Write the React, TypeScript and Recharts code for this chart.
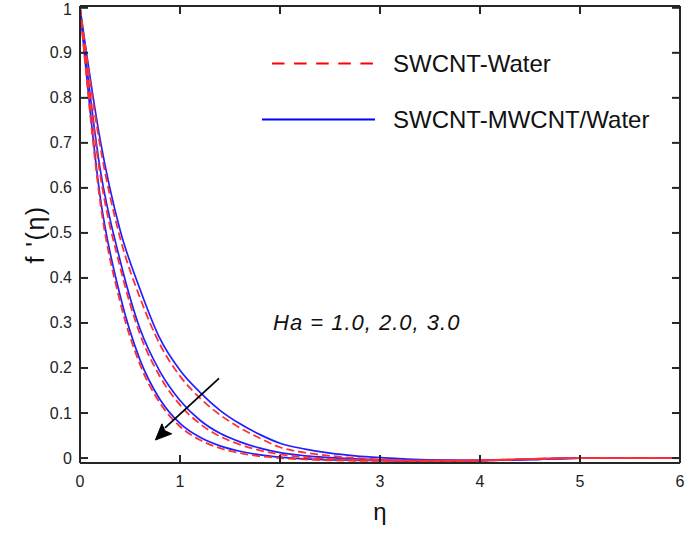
import React from 'react';
import {
  LineChart,
  Line,
  XAxis,
  YAxis,
  Legend,
  ReferenceLine,
  ReferenceDot,
} from 'recharts';

const FONT = '"Liberation Sans", Arial, Helvetica, sans-serif';

// similarity variable eta
const ETA = [0, 0.2, 0.4, 0.6, 0.8, 1.0, 1.2, 1.4, 1.6, 1.8, 2.0, 2.25, 2.5, 2.75, 3.0, 3.5, 4.0, 4.5, 5.0, 5.5, 6.0];

// SWCNT-MWCNT/Water (blue solid), Ha = 1, 2, 3
const HYBRID_HA1 = [1, 0.709, 0.507, 0.375, 0.265, 0.195, 0.146, 0.106, 0.076, 0.052, 0.033, 0.02, 0.011, 0.005, 0.001, -0.004, -0.005, -0.003, 0.0, 0.0, 0.0];
const HYBRID_HA2 = [1, 0.644, 0.44, 0.287, 0.192, 0.128, 0.084, 0.055, 0.036, 0.022, 0.012, 0.005, 0.001, -0.002, -0.004, -0.006, -0.005, -0.003, 0.0, 0.0, 0.0];
const HYBRID_HA3 = [1, 0.583, 0.362, 0.218, 0.13, 0.077, 0.046, 0.027, 0.015, 0.007, 0.002, -0.002, -0.004, -0.005, -0.006, -0.007, -0.006, -0.003, 0.0, 0.0, 0.0];

// SWCNT-Water (red dashed), Ha = 1, 2, 3
const MONO_HA1 = [1, 0.695, 0.49, 0.356, 0.252, 0.182, 0.133, 0.096, 0.067, 0.044, 0.024, 0.012, 0.005, 0.0, -0.003, -0.006, -0.005, -0.002, 0.0, 0.0, 0.0];
const MONO_HA2 = [1, 0.632, 0.425, 0.275, 0.181, 0.118, 0.076, 0.048, 0.03, 0.017, 0.008, 0.002, -0.002, -0.004, -0.005, -0.006, -0.005, -0.002, 0.0, 0.0, 0.0];
const MONO_HA3 = [1, 0.572, 0.348, 0.208, 0.122, 0.07, 0.04, 0.022, 0.011, 0.004, 0.0, -0.003, -0.005, -0.006, -0.006, -0.007, -0.006, -0.002, 0.0, 0.0, 0.0];

const X_TICKS = [0, 1, 2, 3, 4, 5, 6];
const Y_TICKS = [0, 0.1, 0.2, 0.3, 0.4, 0.5, 0.6, 0.7, 0.8, 0.9, 1];

const LEGEND_LABELS = ['SWCNT-Water', 'SWCNT-MWCNT/Water'];
const ANNOTATION = 'Ha = 1.0, 2.0, 3.0';

const data = ETA.map((eta, i) => ({
  eta,
  h1: HYBRID_HA1[i],
  h2: HYBRID_HA2[i],
  h3: HYBRID_HA3[i],
  m1: MONO_HA1[i],
  m2: MONO_HA2[i],
  m3: MONO_HA3[i],
}));

const X_MIN = 0;
const X_MAX = 6;
const Y_MIN = -0.011;
const Y_MAX = 1.004;
const TICK_LEN = 8;
const TICK_W = 2;

const BLUE = '#2020ff';
const RED = '#ff3030';
const AXIS = '#262626';

const fmtY = (v: number) => (v === 0 ? '0' : v === 1 ? '1' : String(v));

const BottomTick = (p: any) => (
  <text x={p.x} y={p.y + 18} textAnchor="middle" dominantBaseline="central" fontFamily={FONT} fontSize={16} fill="#222">
    {p.payload.value}
  </text>
);

const LeftTick = (p: any) => (
  <text x={p.x - 8} y={p.y} textAnchor="end" dominantBaseline="central" fontFamily={FONT} fontSize={16} fill="#222">
    {fmtY(p.payload.value)}
  </text>
);

// inward tick marks as small filled rects at the scaled tick position
const TickUp = (p: any) => (
  <rect x={p.cx - TICK_W / 2} y={p.cy - TICK_LEN} width={TICK_W} height={TICK_LEN} fill={AXIS} />
);
const TickDown = (p: any) => (
  <rect x={p.cx - TICK_W / 2} y={p.cy} width={TICK_W} height={TICK_LEN} fill={AXIS} />
);
const TickRight = (p: any) => (
  <rect x={p.cx} y={p.cy - TICK_W / 2} width={TICK_LEN} height={TICK_W} fill={AXIS} />
);
const TickLeft = (p: any) => (
  <rect x={p.cx - TICK_LEN} y={p.cy - TICK_W / 2} width={TICK_LEN} height={TICK_W} fill={AXIS} />
);

const LegendContent = () => (
  <svg
    width={685}
    height={160}
    style={{ position: 'absolute', left: 0, top: 0, overflow: 'visible', pointerEvents: 'none' }}
  >
    <line x1={272} y1={63.5} x2={375} y2={63.5} stroke="#ff0000" strokeWidth={2} strokeDasharray="12.5 9.6" />
    <text x={393} y={63.5} dominantBaseline="central" fontFamily={FONT} fontSize={24} fill="#111">
      {LEGEND_LABELS[0]}
    </text>
    <line x1={262} y1={119.5} x2={375} y2={119.5} stroke="#0000ff" strokeWidth={2} />
    <text x={393} y={119.5} dominantBaseline="central" fontFamily={FONT} fontSize={24} fill="#111">
      {LEGEND_LABELS[1]}
    </text>
  </svg>
);

const AnnotationText = (props: any) => (
  <text
    x={props.cx}
    y={props.cy}
    dominantBaseline="central"
    fontFamily={FONT}
    fontSize={22}
    fontStyle="italic"
    letterSpacing={1}
    fill="#111"
  >
    {ANNOTATION}
  </text>
);

const ArrowHead = (props: any) => {
  const { cx, cy } = props;
  const pts = [
    [cx, cy],
    [cx + 16.3, cy - 6.2],
    [cx + 9.5, cy - 9.3],
    [cx + 6.5, cy - 16.2],
  ]
    .map((p) => p.join(','))
    .join(' ');
  return <polygon points={pts} fill="#000" stroke="#000" strokeWidth={1} />;
};

const tickDots = [
  ...X_TICKS.map((t) => ({ key: `xb${t}`, x: t, y: Y_MIN, shape: TickUp })),
  ...X_TICKS.map((t) => ({ key: `xt${t}`, x: t, y: Y_MAX, shape: TickDown })),
  ...Y_TICKS.map((t) => ({ key: `yl${t}`, x: X_MIN, y: t, shape: TickRight })),
  ...Y_TICKS.map((t) => ({ key: `yr${t}`, x: X_MAX, y: t, shape: TickLeft })),
];

export default function App() {
  return (
    <div style={{ position: 'absolute', left: 0, top: 0, width: 685, height: 534, background: '#fff' }}>
      <LineChart width={685} height={534} data={data} margin={{ top: 6, right: 5, bottom: 0, left: 0 }}>
        <XAxis
          dataKey="eta"
          type="number"
          domain={[X_MIN, X_MAX]}
          ticks={X_TICKS}
          allowDataOverflow
          height={71}
          axisLine={false}
          tickLine={false}
          tickSize={0}
          tickMargin={0}
          tick={BottomTick}
          label={(p: any) => {
            const vb = p.viewBox || {};
            return (
              <text x={vb.x + vb.width / 2} y={520} textAnchor="middle" fontFamily={FONT} fontSize={24} fill="#111">
                η
              </text>
            );
          }}
        />
        <YAxis
          type="number"
          domain={[Y_MIN, Y_MAX]}
          ticks={Y_TICKS}
          allowDataOverflow
          width={80}
          axisLine={false}
          tickLine={false}
          tickSize={0}
          tickMargin={0}
          tick={LeftTick}
          label={(p: any) => {
            const vb = p.viewBox || {};
            const cy = vb.y + vb.height / 2;
            return (
              <text
                x={35}
                y={cy}
                transform={`rotate(-90, 35, ${cy})`}
                textAnchor="middle"
                dominantBaseline="central"
                fontFamily={FONT}
                fontSize={25}
                letterSpacing={1.5}
                fill="#111"
              >
                f '(η)
              </text>
            );
          }}
        />

        <Line dataKey="h1" type="monotone" stroke={BLUE} strokeWidth={1.7} dot={false} isAnimationActive={false} />
        <Line dataKey="h2" type="monotone" stroke={BLUE} strokeWidth={1.7} dot={false} isAnimationActive={false} />
        <Line dataKey="h3" type="monotone" stroke={BLUE} strokeWidth={1.7} dot={false} isAnimationActive={false} />
        <Line dataKey="m1" type="monotone" stroke={RED} strokeWidth={1.8} strokeDasharray="8 4" dot={false} isAnimationActive={false} />
        <Line dataKey="m2" type="monotone" stroke={RED} strokeWidth={1.8} strokeDasharray="8 4" dot={false} isAnimationActive={false} />
        <Line dataKey="m3" type="monotone" stroke={RED} strokeWidth={1.8} strokeDasharray="8 4" dot={false} isAnimationActive={false} />

        {/* box frame */}
        <ReferenceLine x={X_MIN} stroke={AXIS} strokeWidth={2} ifOverflow="visible" />
        <ReferenceLine x={X_MAX} stroke={AXIS} strokeWidth={2} ifOverflow="visible" />
        <ReferenceLine y={Y_MIN} stroke={AXIS} strokeWidth={2} ifOverflow="visible" />
        <ReferenceLine y={Y_MAX} stroke={AXIS} strokeWidth={2} ifOverflow="visible" />

        {/* inward tick marks on all four sides */}
        {tickDots.map((d) => (
          <ReferenceDot key={d.key} x={d.x} y={d.y} r={3} ifOverflow="visible" fill={AXIS} stroke="none" shape={d.shape} />
        ))}

        <ReferenceLine
          segment={[
            { x: 1.39, y: 0.177 },
            { x: 0.85, y: 0.067 },
          ]}
          stroke="#000"
          strokeWidth={1.8}
        />
        <ReferenceDot x={0.754} y={0.04} r={0} shape={ArrowHead} />
        <ReferenceDot x={1.93} y={0.302} r={0} shape={AnnotationText} />

        <Legend
          verticalAlign="top"
          align="left"
          wrapperStyle={{ left: 0, top: 0, width: 0, height: 0, overflow: 'visible' }}
          content={LegendContent}
        />
      </LineChart>
    </div>
  );
}
